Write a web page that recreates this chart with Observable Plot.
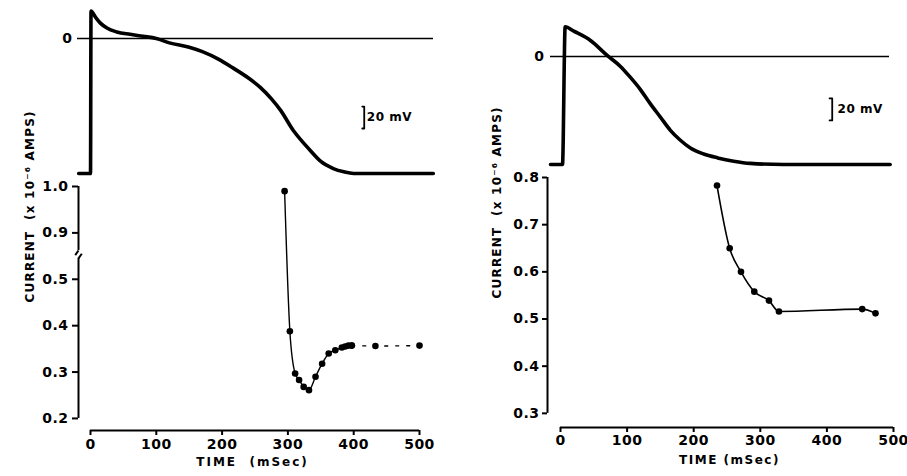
<!DOCTYPE html>
<html><head><meta charset="utf-8">
<script src="https://cdn.jsdelivr.net/npm/d3@7"></script>
<script src="https://cdn.jsdelivr.net/npm/@observablehq/plot@0.6"></script>
<style>
html,body{margin:0;padding:0;background:#fff;}
#chart{position:relative;width:907px;height:476px;overflow:hidden;background:#fff;}
#chart svg{position:absolute;left:0;top:0;}
</style></head><body><div id="chart"></div>
<script>
// ---------- DATA ----------
// Left panel: action potential (time ms, membrane potential mV)
const apLeftTime = [-18, 0, 0.8, 8, 15, 25, 40, 60, 80, 100, 120, 150, 170, 195, 217, 240, 258, 275, 289, 308, 322, 334, 350, 369, 385, 400, 521];
const apLeftMv   = [-123, -123, 25, 19, 14, 9.5, 6, 3.8, 2, 0, -4, -8, -12, -19, -27, -36, -44.5, -55, -65.5, -83.6, -94, -102, -112, -118.5, -121.5, -123, -123];
// Left panel: current (time ms, x10^-6 A)
const curLeftTime = [295, 303, 311, 317, 324, 332, 342, 352, 362, 372, 382, 387, 392, 397];
const curLeftVal  = [0.99, 0.388, 0.297, 0.283, 0.268, 0.261, 0.29, 0.318, 0.34, 0.347, 0.353, 0.355, 0.357, 0.357];
const curLeftTailTime = [397, 433, 500];
const curLeftTailVal  = [0.357, 0.356, 0.357];
// Right panel: action potential
const apRightTime = [-15, 3, 7, 20, 45, 70, 90, 105, 120, 135, 150, 165, 180, 195, 215, 236, 260, 285, 335, 495];
const apRightMv   = [-98, -98, 27, 23, 14.5, 1, -9, -19, -30, -43, -55, -67, -76, -83, -88.5, -92, -95, -97, -98, -98];
// Right panel: current
const curRightTime = [235, 254, 271, 291, 313, 328, 453, 473];
const curRightVal  = [0.783, 0.65, 0.60, 0.558, 0.539, 0.516, 0.521, 0.512];
// Ticks / labels
const timeTicks = [0, 100, 200, 300, 400, 500];
const leftCurTicks = [0.2, 0.3, 0.4, 0.5, 0.9, 1.0];
const rightCurTicks = [0.3, 0.4, 0.5, 0.6, 0.7, 0.8];
const scaleBarMv = 20;
const xTitleLeft = "TIME  (mSec)";
const xTitleRight = "TIME (mSec)";
const yTitle = "CURRENT  (x 10\u207B\u2076 AMPS)";
const barLabel = "20 mV";

// ---------- HELPERS ----------
const BREAK_SHIFT = 0.3;            // axis break: 0.9–1.0 drawn directly above 0.5
const brk = v => v >= 0.8 ? v - BREAK_SHIFT : v;
const unbrk = v => v > 0.55 ? v + BREAK_SHIFT : v;
const rows = (ts, vs, f = v => v) => ts.map((t, i) => ({t, v: f(vs[i])}));

const font = {background: "transparent", fontFamily: "DejaVu Sans, sans-serif", fontSize: "14px", fontWeight: "bold", color: "black", overflow: "visible", letterSpacing: "0.5px"};
const W = 907, H = 476;

// layout (pixels)
const L = {x0: 90, x1: 419, axisX: 78, apZero: 38, apRest: 173};
const R = {x0: 560, x1: 893, axisX: 547, apZero: 56, apRest: 164};
const tAt = (px, P) => 500 * (px - P.x0) / (P.x1 - P.x0);

const chart = document.getElementById("chart");

// ---------- LEFT AP ----------
chart.append(Plot.plot({
  width: W, height: H, marginLeft: 78, marginRight: 0, marginTop: 0, marginBottom: 0,
  style: font,
  x: {domain: [0, 500], range: [L.x0, L.x1], axis: null},
  y: {domain: [-123, 0], range: [L.apRest, L.apZero]},
  marks: [
    Plot.ruleY([0], {x1: tAt(77, L), x2: tAt(433, L), strokeWidth: 1.6}),
    Plot.axisY({ticks: [0], tickSize: 0, tickPadding: 6, label: null}),
    Plot.line(rows(apLeftTime, apLeftMv), {x: "t", y: "v", strokeWidth: 3.6, curve: "monotone-x", strokeLinejoin: "round"}),
    Plot.line([{t: 413, v: -62}, {t: 416, v: -62}, {t: 416, v: -62 - scaleBarMv}, {t: 413, v: -62 - scaleBarMv}], {x: "t", y: "v", strokeWidth: 1.8}),
    Plot.text([barLabel], {x: 420, y: -72, textAnchor: "start", fontSize: 12})
  ]
}));

// ---------- LEFT CURRENT ----------
chart.append(Plot.plot({
  width: W, height: H, marginLeft: L.axisX, marginRight: 481, marginTop: 174, marginBottom: 46,
  style: font,
  x: {domain: [0, 500], range: [L.x0, L.x1]},
  y: {domain: [0.174, 0.7], range: [430, 186]},
  marks: [
    Plot.ruleY([0.174], {x1: 0, x2: 500, strokeWidth: 2}),
    Plot.ruleX([{a: 0.2, b: 0.545}, {a: 0.562, b: 0.7}], {x: tAt(L.axisX, L), y1: "a", y2: "b", strokeWidth: 2}),
    Plot.link([{a: 0.562, b: 0.552, d: -5}, {a: 0.545, b: 0.555, d: 5}], {x1: tAt(L.axisX, L), y1: "a", x2: d => tAt(L.axisX, L) + d.d, y2: "b", strokeWidth: 2}),
    Plot.axisX({ticks: timeTicks, tickSize: 5, tickPadding: 4, label: null, strokeWidth: 2}),
    Plot.axisY({ticks: leftCurTicks.map(brk), tickFormat: d => unbrk(d).toFixed(1), tickSize: 6, tickPadding: 4, label: null, strokeWidth: 2}),
    Plot.line(rows(curLeftTime, curLeftVal, brk), {x: "t", y: "v", strokeWidth: 1.4, curve: "monotone-x"}),
    Plot.line(rows(curLeftTailTime, curLeftTailVal), {x: "t", y: "v", strokeWidth: 1.4, strokeDasharray: "3,8"}),
    Plot.dot(rows(curLeftTime, curLeftVal, brk).concat(rows(curLeftTailTime, curLeftTailVal)), {x: "t", y: "v", r: 3.3, fill: "black", stroke: "none"}),
    Plot.text([xTitleLeft], {frameAnchor: "bottom", dy: 35, fontSize: 12}),
    Plot.text([yTitle], {frameAnchor: "left", rotate: -90, dx: -48, fontSize: 12})
  ]
}));

// ---------- RIGHT AP ----------
chart.append(Plot.plot({
  width: W, height: H, marginLeft: 550, marginRight: 0, marginTop: 0, marginBottom: 0,
  style: font,
  x: {domain: [0, 500], range: [R.x0, R.x1], axis: null},
  y: {domain: [-98, 0], range: [R.apRest, R.apZero]},
  marks: [
    Plot.ruleY([0], {x1: tAt(550, R), x2: tAt(889, R), strokeWidth: 1.6}),
    Plot.axisY({ticks: [0], tickSize: 0, tickPadding: 6, label: null}),
    Plot.line(rows(apRightTime, apRightMv), {x: "t", y: "v", strokeWidth: 3.6, curve: "monotone-x", strokeLinejoin: "round"}),
    Plot.line([{t: 404, v: -38}, {t: 408, v: -38}, {t: 408, v: -38 - scaleBarMv}, {t: 404, v: -38 - scaleBarMv}], {x: "t", y: "v", strokeWidth: 1.8}),
    Plot.text([barLabel], {x: 416, y: -48, textAnchor: "start", fontSize: 12})
  ]
}));

// ---------- RIGHT CURRENT ----------
chart.append(Plot.plot({
  width: W, height: H, marginLeft: R.axisX, marginRight: 0, marginTop: 169, marginBottom: 49,
  style: font,
  x: {domain: [0, 500], range: [R.x0, R.x1]},
  y: {domain: [0.270, 0.8], range: [427, 177]},
  marks: [
    Plot.ruleY([0.270], {x1: 0, x2: 500, strokeWidth: 2}),
    Plot.ruleX([{a: 0.3, b: 0.8}], {x: tAt(R.axisX, R), y1: "a", y2: "b", strokeWidth: 2}),
    Plot.axisX({ticks: timeTicks, tickSize: 5, tickPadding: 3, label: null, strokeWidth: 2}),
    Plot.axisY({ticks: rightCurTicks, tickFormat: d => d.toFixed(1), tickSize: 5, tickPadding: 3, label: null, strokeWidth: 2}),
    Plot.line(rows(curRightTime, curRightVal), {x: "t", y: "v", strokeWidth: 1.6, curve: "monotone-x"}),
    Plot.dot(rows(curRightTime, curRightVal), {x: "t", y: "v", r: 3.3, fill: "black", stroke: "none"}),
    Plot.text([xTitleRight], {frameAnchor: "bottom", dx: 2, dy: 36, fontSize: 12}),
    Plot.text([yTitle], {frameAnchor: "left", rotate: -90, dx: -50, fontSize: 12})
  ]
}));

// letter spacing for titles (typographic only)
d3.select(chart).selectAll("text").each(function () {
  const s = this.textContent;
  if (s === yTitle) this.style.letterSpacing = "1.2px";
  else if (s === xTitleLeft) this.style.letterSpacing = "2px";
  else if (s === xTitleRight) this.style.letterSpacing = "1.5px";
});
</script></body></html>
